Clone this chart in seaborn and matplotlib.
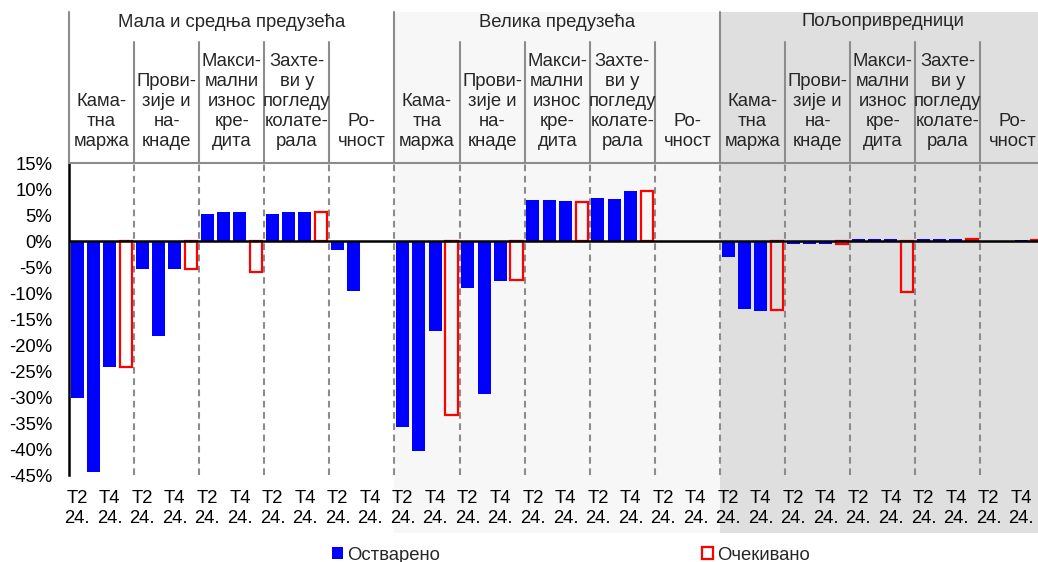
""" Bank lending terms survey chart """
import pandas as pd
import seaborn as sns
import matplotlib.pyplot as plt
from matplotlib.patches import Patch, Rectangle

groups = ["Мала и средња предузећа", "Велика предузећа", "Пољопривредници"]
subcats = [
    "Кама-\nтна\nмаржа",
    "Прови-\nзије и\nна-\nкнаде",
    "Макси-\nмални\nизнос\nкре-\nдита",
    "Захте-\nви у\nпогледу\nколате-\nрала",
    "Ро-\nчност",
]
periods = ["T2 24.", "T3 24.", "T4 24.", "T1 25."]

# realized values, three quarters per subcategory
realized_sme = [-30.1, -44.5, -24.2, -5.4, -18.2, -5.4, 5.2, 5.7, 5.7,
                5.2, 5.7, 5.7, -1.6, -9.6, 0.0]
realized_large = [-35.7, -40.4, -17.3, -9.1, -29.5, -7.7, 7.9, 7.9, 7.7,
                  8.3, 8.2, 9.7, 0.0, 0.0, 0.0]
realized_agri = [-3.1, -13.1, -13.4, -0.5, -0.5, -0.5, 0.4, 0.4, 0.4,
                 0.4, 0.4, 0.4, 0.0, 0.0, 0.15]

# expected value, one per subcategory
expected_sme = [-24.2, -5.4, -5.9, 5.6, 0.0]
expected_large = [-33.5, -7.5, 7.6, 9.7, 0.0]
expected_agri = [-13.2, -0.5, -9.7, 0.4, 0.15]

realized = [realized_sme, realized_large, realized_agri]
expected = [expected_sme, expected_large, expected_agri]

# Build long tables, one slot per bar
order = [f"{g}-{s}-{p}" for g in range(3) for s in range(5) for p in range(4)]
rows_real, rows_exp = [], []
for g in range(3):
    for s in range(5):
        for p in range(3):
            rows_real.append({"slot": f"{g}-{s}-{p}", "value": realized[g][s * 3 + p]})
        rows_exp.append({"slot": f"{g}-{s}-3", "value": expected[g][s]})
df_real = pd.DataFrame(rows_real)
df_exp = pd.DataFrame(rows_exp)
# empty cells are not drawn (an outline bar of height 0 would show a line)
df_real = df_real[df_real["value"] != 0]
df_exp = df_exp[df_exp["value"] != 0]

sns.set_style("white")
plt.rcParams["font.family"] = ["Liberation Sans", "DejaVu Sans"]
FS = 13.3
plt.rcParams["font.size"] = FS

W, H = 1038, 562
fig = plt.figure(figsize=(W / 100, H / 100), dpi=100)
# axes pixel box: left 69, right 1045.5 (cropped by figure), top 163.3, bottom 475
ax_l, ax_r, ax_t, ax_b = 69, 1045.5, 163.3, 475
ax = fig.add_axes([ax_l / W, 1 - ax_b / H, (ax_r - ax_l) / W, (ax_b - ax_t) / H])
ax.set_facecolor("none")


def ypx(px):
    """ pixel row -> axes fraction """
    return (ax_b - px) / (ax_b - ax_t)


sns.barplot(data=df_real, x="slot", y="value", order=order, color="#0000ff",
            saturation=1, linewidth=0, width=0.8, errorbar=None, ax=ax, zorder=3)
sns.barplot(data=df_exp, x="slot", y="value", order=order, color="#ff0000",
            saturation=1, fill=False, linewidth=1.6, width=0.75, errorbar=None,
            ax=ax, zorder=3)

ax.set_xlim(-0.5, 59.5)
ax.set_ylim(-45, 15)
ax.set_yticks(range(-45, 16, 5))
ax.set_yticklabels([f"{v}%" for v in range(-45, 16, 5)])
ticks = [i for i in range(60) if i % 4 in (0, 2)]
ax.set_xticks(ticks)
ax.set_xticklabels([periods[i % 4].replace(" ", "\n") for i in ticks], linespacing=1.2)
ax.tick_params(axis="both", length=0, colors="#000000", labelsize=FS)
ax.tick_params(axis="x", pad=11)
ax.tick_params(axis="y", pad=12)
ax.set_xlabel("")
ax.set_ylabel("")

for side in ["right", "bottom"]:
    ax.spines[side].set_visible(False)
ax.spines["left"].set_color("black")
ax.spines["left"].set_linewidth(1.8)
ax.spines["top"].set_color("#8c8c8c")
ax.spines["top"].set_linewidth(1.5)
ax.axhline(0, color="black", linewidth=1.8, zorder=4)

trans = ax.get_xaxis_transform()
bg_colors = ["#ffffff", "#f7f7f7", "#dfdfdf"]

# Group shading and header
for g in range(3):
    x0 = g * 20 - 0.5
    ax.add_patch(Rectangle((x0, ypx(533)), 20, ypx(12) - ypx(533), transform=trans,
                           facecolor=bg_colors[g], edgecolor="none", clip_on=False, zorder=0))
    ax.text(x0 + 10, ypx(22), groups[g], transform=trans, ha="center", va="center",
            fontsize=FS, clip_on=False)
    ax.plot([x0, x0], [ypx(12), 1], transform=trans, color="#8c8c8c", lw=1.5,
            clip_on=False, zorder=1)
    for s in range(5):
        xs = x0 + s * 4
        if s > 0:
            ax.plot([xs, xs], [ypx(42), 1], transform=trans, color="#8c8c8c", lw=1.5,
                    clip_on=False, zorder=1)
        ax.text(xs + 2, ypx(150), subcats[s], transform=trans, ha="center", va="bottom",
                linespacing=1.24, fontsize=FS, clip_on=False)

# Dashed separators inside the plot
for k in range(1, 16):
    ax.plot([k * 4 - 0.5] * 2, [0, 1], transform=trans, color="#8c8c8c", lw=1.5,
            linestyle=(0, (3.2, 2.2)), clip_on=False, zorder=1)

handles = [
    Patch(facecolor="#0000ff", edgecolor="none", label="Остварено"),
    Patch(facecolor="none", edgecolor="#ff0000", linewidth=1.6, label="Очекивано"),
]
fig.legend(handles=handles, loc="center", bbox_to_anchor=(571 / W, 1 - 555 / H),
           ncol=2, frameon=False, fontsize=FS, handlelength=0.6, handleheight=0.6,
           handletextpad=0.2, columnspacing=14.2, borderpad=0)

fig.savefig("out.png", dpi=100)
